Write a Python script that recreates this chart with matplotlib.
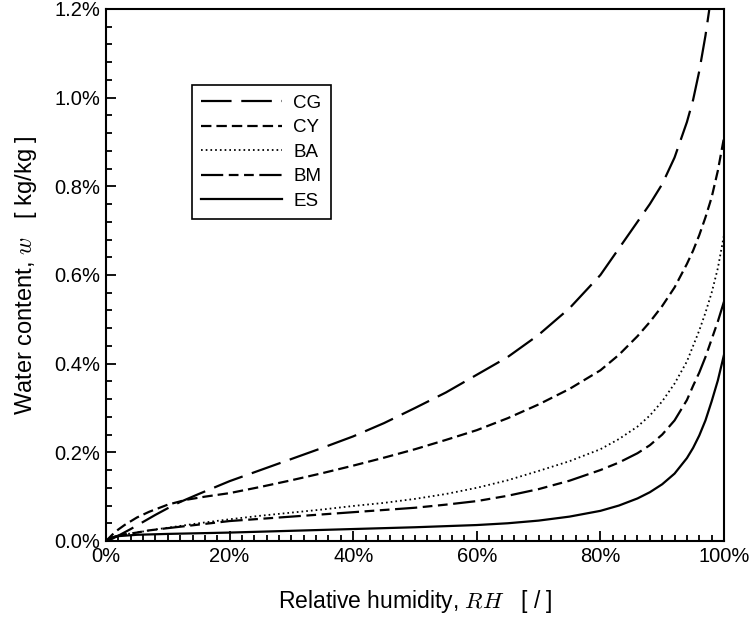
import matplotlib
matplotlib.use("Agg")
import matplotlib.pyplot as plt
from matplotlib.ticker import MultipleLocator, FuncFormatter

plt.rcParams["font.family"] = ["Liberation Sans", "DejaVu Sans"]
plt.rcParams["mathtext.fontset"] = "cm"
plt.rcParams["lines.scale_dashes"] = False

# sorption isotherms, values (RH in %, w in %)
rh_cg = [0, 1, 2, 4, 6, 8, 10, 12, 15, 20, 25, 30, 35, 40, 45, 50, 55, 60,
         65, 70, 75, 80, 82, 84, 86, 88, 90, 92, 94, 95, 96, 97, 98]
w_cg = [0, 0.005, 0.012, 0.027, 0.043, 0.059, 0.074, 0.088, 0.106, 0.135,
        0.160, 0.185, 0.210, 0.236, 0.266, 0.300, 0.335, 0.375, 0.415, 0.465,
        0.525, 0.600, 0.640, 0.680, 0.720, 0.760, 0.805, 0.865, 0.945, 0.995,
        1.060, 1.140, 1.235]

rh_cy = [0, 1, 2, 3, 5, 7, 10, 13, 16, 20, 25, 30, 35, 40, 45, 50, 55, 60,
         65, 70, 75, 80, 83, 86, 88, 90, 92, 94, 95, 96, 97, 98, 99, 100]
w_cy = [0, 0.014, 0.026, 0.036, 0.053, 0.066, 0.082, 0.093, 0.100, 0.108,
        0.122, 0.137, 0.153, 0.170, 0.188, 0.207, 0.228, 0.250, 0.277, 0.308,
        0.343, 0.385, 0.420, 0.462, 0.494, 0.530, 0.572, 0.625, 0.655, 0.690,
        0.730, 0.775, 0.835, 0.910]

rh_ba = [0, 1, 2, 3, 5, 7, 10, 15, 20, 25, 30, 35, 40, 45, 50, 55, 60, 65,
         70, 75, 80, 83, 86, 88, 90, 92, 94, 95, 96, 97, 98, 99, 100]
w_ba = [0, 0.008, 0.012, 0.015, 0.019, 0.024, 0.030, 0.040, 0.049, 0.057,
        0.064, 0.071, 0.079, 0.086, 0.095, 0.106, 0.120, 0.137, 0.158, 0.180,
        0.207, 0.230, 0.258, 0.283, 0.315, 0.355, 0.405, 0.440, 0.475, 0.515,
        0.560, 0.615, 0.690]

rh_bm = [0, 1, 2, 3, 5, 7, 10, 15, 20, 25, 30, 35, 40, 45, 50, 55, 60, 65,
         70, 75, 80, 83, 86, 88, 90, 92, 94, 95, 96, 97, 98, 99, 100]
w_bm = [0, 0.008, 0.012, 0.015, 0.019, 0.024, 0.029, 0.037, 0.045, 0.050,
        0.055, 0.060, 0.065, 0.070, 0.075, 0.082, 0.090, 0.102, 0.117, 0.136,
        0.160, 0.177, 0.198, 0.216, 0.240, 0.272, 0.318, 0.350, 0.380, 0.415,
        0.455, 0.495, 0.540]

rh_es = [0, 1, 2, 3, 5, 10, 20, 30, 40, 50, 60, 65, 70, 75, 80, 83, 86, 88,
         90, 92, 94, 95, 96, 97, 98, 99, 100]
w_es = [0, 0.008, 0.011, 0.012, 0.014, 0.016, 0.019, 0.023, 0.027, 0.031,
        0.036, 0.040, 0.046, 0.055, 0.068, 0.080, 0.096, 0.110, 0.128, 0.152,
        0.187, 0.210, 0.238, 0.272, 0.315, 0.362, 0.420]

labels = ["CG", "CY", "BA", "BM", "ES"]

fig = plt.figure(figsize=(7.53, 6.19), dpi=100)
ax = fig.add_axes([106 / 753, 1 - 541 / 619, 618 / 753, 532 / 619])

lw = 1.6
ax.plot(rh_cg, w_cg, color="black", lw=lw, dashes=(22, 7), label=labels[0])
ax.plot(rh_cy, w_cy, color="black", lw=lw, dashes=(7.5, 3.6), label=labels[1])
ax.plot(rh_ba, w_ba, color="black", lw=1.3, dashes=(1.2, 2.2), label=labels[2])
ax.plot(rh_bm, w_bm, color="black", lw=lw, dashes=(16, 4, 7, 4, 7, 4), label=labels[3])
ax.plot(rh_es, w_es, color="black", lw=lw, label=labels[4])

ax.set_xlim(0, 100)
ax.set_ylim(0, 1.2)
ax.xaxis.set_major_locator(MultipleLocator(20))
ax.xaxis.set_minor_locator(MultipleLocator(2))
ax.yaxis.set_major_locator(MultipleLocator(0.2))
ax.yaxis.set_minor_locator(MultipleLocator(0.04))
ax.xaxis.set_major_formatter(FuncFormatter(lambda v, p: f"{v:.0f}%"))
ax.yaxis.set_major_formatter(FuncFormatter(lambda v, p: f"{v:.1f}%"))

ax.tick_params(which="both", direction="in", top=False, right=False,
               width=1.3, labelsize=14.5, pad=4)
ax.tick_params(which="major", length=7)
ax.tick_params(which="minor", length=4)
for sp in ax.spines.values():
    sp.set_linewidth(1.5)

ax.set_xlabel("Relative humidity, $RH$   [ / ]", fontsize=16.5, labelpad=16)
ax.set_ylabel("Water content, $w$   [ kg/kg ]", fontsize=17, labelpad=11)

leg = ax.legend(loc="upper left", bbox_to_anchor=(192 / 753, 1 - 85 / 619),
                bbox_transform=fig.transFigure, borderaxespad=0,
                fancybox=False, framealpha=1, edgecolor="black",
                fontsize=13.5, handlelength=4.3, labelspacing=0.4,
                handletextpad=0.6, borderpad=0.5)
leg.get_frame().set_linewidth(1.2)

fig.savefig("out.png", dpi=100)
